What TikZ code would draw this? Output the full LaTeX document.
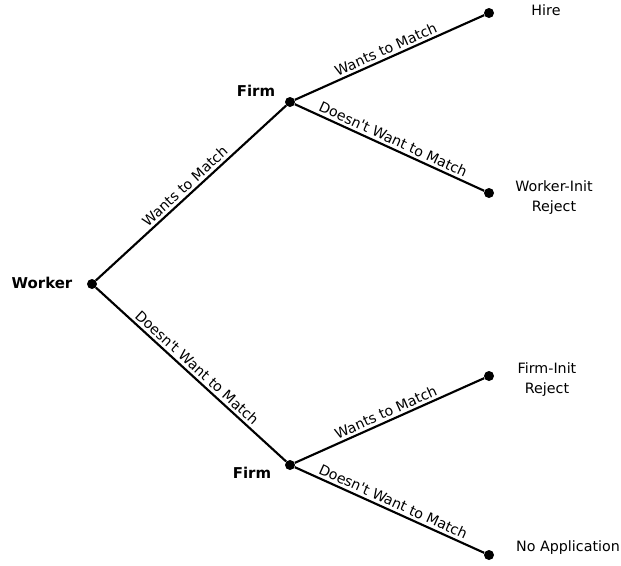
\documentclass[tikz,border=0pt]{standalone}
\usepackage{fontspec}
\setmainfont{DejaVu Sans}

\newcommand{\LeafX}{489}
\newcommand{\NoWant}{Doesn\textquotesingle t Want to Match}

\begin{document}
\begin{tikzpicture}[x=0.75pt,y=-0.75pt,
        dot/.style={circle,fill=black,inner sep=0pt,minimum size=7.5pt},
        edge/.style={line width=1.6pt},
        move/.style={font=\fontsize{10.6}{12}\selectfont,sloped,above,midway,inner sep=2pt},
        player/.style={font=\fontsize{11.2}{13}\selectfont\bfseries},
        outcome/.style={font=\fontsize{10.7}{15}\selectfont,align=center}]
        \useasboundingbox (0,0) rectangle (621,565);

        % decision nodes
        \node[dot] (W)  at (92,284)  {};
        \node[dot] (F1) at (290,102) {};
        \node[dot] (F2) at (290,465) {};
        \foreach \N/\Y in {1/13,2/193,3/376,4/555} {
            \node[dot] (L\N) at (\LeafX,\Y) {};
        }

        \node[player] (WName)  at (42,283)  {Worker};
        \node[player] (F1Name) at (256,91)  {Firm};
        \node[player] (F2Name) at (252,473) {Firm};

        \node[outcome] (O1) at (546,10)  {Hire};
        \node[outcome] (O2) at (554,198) {Worker-Init\\Reject};
        \node[outcome] (O3) at (547,380) {Firm-Init\\Reject};
        \node[outcome] (O4) at (568,548) {No Application};

        % worker moves
        \draw[edge] (W) -- node[move] {Wants to Match} (F1);
        \draw[edge] (W) -- node[move] {\NoWant} (F2);

        % firm moves
        \draw[edge] (F1) -- node[move] {Wants to Match} (L1);
        \draw[edge] (F1) -- node[move] {\NoWant} (L2);
        \draw[edge] (F2) -- node[move] {Wants to Match} (L3);
        \draw[edge] (F2) -- node[move] {\NoWant} (L4);

    \end{tikzpicture}
\end{document}
